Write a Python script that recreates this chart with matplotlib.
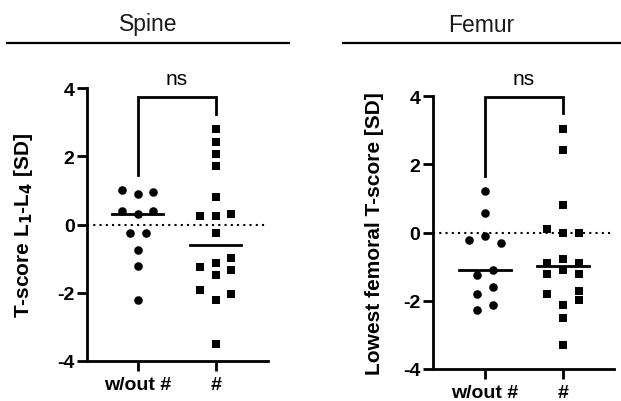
import numpy as np
import matplotlib
matplotlib.use("Agg")
from matplotlib import pyplot as plt
from matplotlib.lines import Line2D

plt.rcParams['font.family'] = ['Liberation Sans', 'DejaVu Sans']
plt.rcParams['axes.unicode_minus'] = False

# data (T-scores, SD)
groups = ["w/out #", "#"]

spine_without = [1.00, 0.88, 0.95, 0.41, 0.32, 0.41, -0.25, -0.25, -0.76, -1.22, -2.22]
spine_with = [2.79, 2.42, 2.06, 1.70, 0.82, 0.26, 0.26, 0.32, -0.25, -0.98, -1.13,
              -1.25, -1.32, -1.47, -1.91, -2.03, -2.22, -3.51]
femur_without = [1.21, 0.58, -0.23, -0.11, -0.30, -1.09, -1.24, -1.61, -1.81, -2.12, -2.28]
femur_with = [3.03, 2.41, 0.80, 0.09, -0.01, -0.01, -0.79, -0.89, -0.89, -1.22, -1.09,
              -1.22, -1.80, -1.71, -1.99, -2.12, -2.51, -3.31]

# swarm slots (horizontal spread of the dots inside each column)
spine_without_slots = [-2, 0, 2, -2, 0, 2, -1, 1, 0, 0, 0]
spine_with_slots = [0, 0, 0, 0, 0, -2, 0, 2, 0, 2, 0, -2, 2, 0, -2, 2, 0, 0]
femur_without_slots = [0, 0, -2, 0, 2, 1, -1, 1, -1, 1, -1]
femur_with_slots = [0, 0, 0, -2, 0, 2, 0, -2, 2, -2, 0, 2, -2, 2, 2, 0, 0, 0]

panel_titles = ["Spine", "Femur"]
y_labels = [r"T-score L$_\mathbf{1}$-L$_\mathbf{4}$ [SD]", "Lowest femoral T-score [SD]"]
p_text = "ns"

W, H = 621, 402
fig = plt.figure(figsize=(W / 100, H / 100), dpi=100)


def px_box(x0, x1, ytop, ybot):
    return [x0 / W, 1 - ybot / H, (x1 - x0) / W, (ybot - ytop) / H]


def draw_panel(ax, a, b, slots_a, slots_b, ylabel, xlim, label_x):
    step = 0.1
    xa = 0 + step * np.array(slots_a)
    xb = 1 + step * np.array(slots_b)
    ax.axhline(0, color='black', lw=1.5, ls=(0, (1, 2)), zorder=1)
    ax.scatter(xa, a, s=38, marker='o', color='black', linewidths=0, zorder=3)
    ax.scatter(xb, b, s=30, marker='s', color='black', linewidths=0, zorder=3)
    for i, vals in enumerate([a, b]):
        m = np.median(vals)
        ax.plot([i - 0.33, i + 0.33], [m, m], color='black', lw=2, zorder=2)

    # significance bracket
    top = max(max(a), max(b)) + 0.95
    ax.plot([0, 0, 1, 1], [max(a) + 0.46, top, top, max(b) + 0.46],
            color='black', lw=2, clip_on=False, solid_joinstyle='miter')
    ax.text(0.5, top + 0.38, p_text, ha='center', va='baseline', fontsize=15)

    ax.set_xlim(*xlim)
    ax.set_ylim(-4, 4)
    ax.set_yticks([-4, -2, 0, 2, 4])
    ax.set_xticks([0, 1])
    ax.set_xticklabels(groups)
    for s in ['top', 'right']:
        ax.spines[s].set_visible(False)
    for s in ['left', 'bottom']:
        ax.spines[s].set_linewidth(2)
    ax.tick_params(axis='both', width=2, length=7.5, labelsize=14)
    ax.tick_params(axis='y', pad=1.5)
    ax.tick_params(axis='x', pad=3.5)
    for lab in ax.get_xticklabels() + ax.get_yticklabels():
        lab.set_fontweight('bold')
    ax.set_ylabel(ylabel, fontsize=15, fontweight='bold')
    ax.yaxis.set_label_coords(label_x, 0.5)


ax1 = fig.add_axes(px_box(87, 268, 89, 362))
draw_panel(ax1, spine_without, spine_with, spine_without_slots, spine_with_slots,
           y_labels[0], (-0.65, 1.67), -0.287)

ax2 = fig.add_axes(px_box(433, 614, 97, 370))
draw_panel(ax2, femur_without, femur_with, femur_without_slots, femur_with_slots,
           y_labels[1], (-0.667, 1.654), -0.27)

# headers with underline
for title, (x0, x1) in zip(panel_titles, [(7, 289), (343, 620)]):
    fig.add_artist(Line2D([x0 / W, x1 / W], [1 - 44 / H, 1 - 44 / H],
                          transform=fig.transFigure, color='black', lw=1.6))
    fig.text((x0 + x1) / 2 / W, 1 - 31.5 / H, title, ha='center', va='baseline',
             fontsize=16.5, color='#1a1a1a')

fig.savefig("out.png", dpi=100)
